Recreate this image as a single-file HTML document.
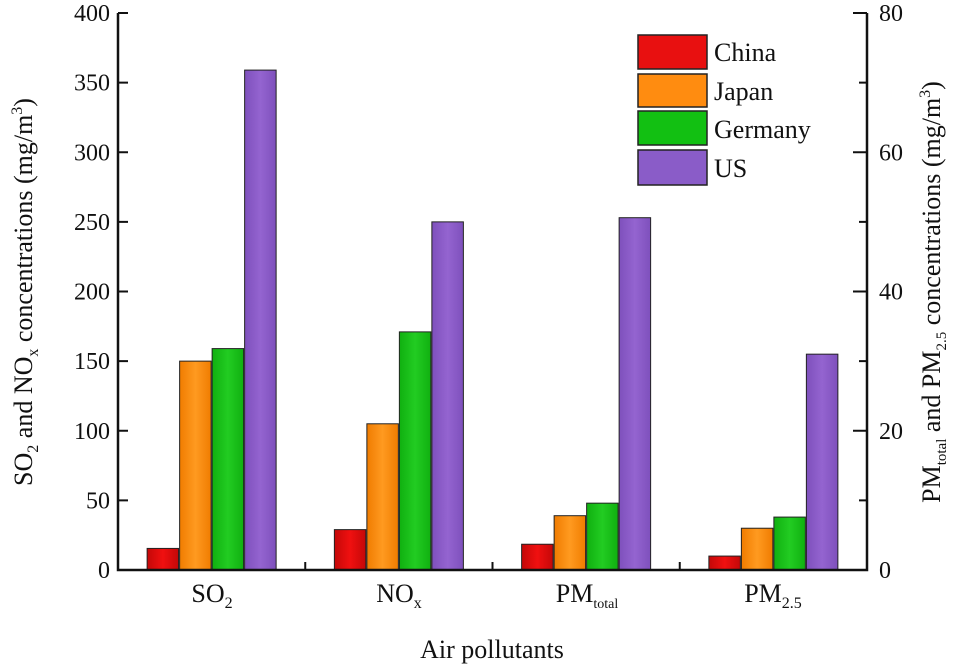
<!DOCTYPE html>
<html><head><meta charset="utf-8"><style>
body{margin:0;background:#fff;}
svg text{font-family:"Liberation Serif",serif;fill:#111;}
</style></head><body>
<svg id="chart" width="963" height="666" viewBox="0 0 963 666" xmlns="http://www.w3.org/2000/svg">
<defs>
<linearGradient id="gChina" x1="0" x2="1"><stop offset="0" stop-color="#c40808"/><stop offset="0.5" stop-color="#f01010"/><stop offset="1" stop-color="#c40808"/></linearGradient>
<linearGradient id="gJapan" x1="0" x2="1"><stop offset="0" stop-color="#f07c00"/><stop offset="0.5" stop-color="#ff9a20"/><stop offset="1" stop-color="#f07c00"/></linearGradient>
<linearGradient id="gGermany" x1="0" x2="1"><stop offset="0" stop-color="#10b010"/><stop offset="0.5" stop-color="#22cc22"/><stop offset="1" stop-color="#10b010"/></linearGradient>
<linearGradient id="gUS" x1="0" x2="1"><stop offset="0" stop-color="#7e50bc"/><stop offset="0.5" stop-color="#9464d0"/><stop offset="1" stop-color="#7e50bc"/></linearGradient>
</defs>
<g id="bars"></g>
<g id="axes"></g>
</svg>
<script>
const categories = ["SO2","NOx","PMtotal","PM2.5"];
const seriesNames = ["China","Japan","Germany","US"];
// SO2 & NOx on left axis (0-400); PM on right axis (0-80)
const china = [15.5, 29, 3.7, 2.0];
const japan = [150, 105, 7.8, 6.0];
const germany = [159, 171, 9.6, 7.6];
const us = [359, 250, 50.6, 31.0];
const useRight = [false, false, true, true];
const leftTicks = [0,50,100,150,200,250,300,350,400];
const rightTicks = [0,20,40,60,80];

const L=118,R=867,T=13,B=570;
const yL=v=>B-(v/400)*(B-T);
const yR=v=>B-(v/80)*(B-T);
const gw=(R-L)/categories.length;
const bw=32.5;
const ns='http://www.w3.org/2000/svg';
function mk(tag,attrs,parent){const e=document.createElementNS(ns,tag);for(const k in attrs)e.setAttribute(k,attrs[k]);parent.appendChild(e);return e;}
const bars=document.getElementById('bars');
const axes=document.getElementById('axes');
const svg=document.getElementById('chart');
const all=[china,japan,germany,us];
const fills=['url(#gChina)','url(#gJapan)','url(#gGermany)','url(#gUS)'];
categories.forEach((c,ci)=>{
  const cx=L+gw*(ci+0.5);
  all.forEach((s,si)=>{
    const y=useRight[ci]?yR(s[ci]):yL(s[ci]);
    const x=cx-2*bw+si*bw;
    const r=mk('rect',{x:x+0.5,y:y,width:bw-1,height:B-y,fill:fills[si],stroke:'#222','stroke-width':1},bars);
    
    
  });
});
// axes lines
const ax=mk('path',{d:`M${L},${T} V${B} H${R} V${T}`,fill:'none',stroke:'#111','stroke-width':2.5},axes);


leftTicks.forEach(t=>{
  const y=yL(t);
  mk('line',{x1:L,x2:L+10,y1:y,y2:y,stroke:'#111','stroke-width':2},axes);
  const tx=mk('text',{x:L-8,y:y+8,'text-anchor':'end','font-size':24},axes);
  tx.textContent=t;
  
  
});
for(let v=10;v<80;v+=20){const y=yR(v);mk('line',{x1:R-8,x2:R,y1:y,y2:y,stroke:'#111','stroke-width':2},axes);}
rightTicks.forEach(t=>{
  const y=yR(t);
  mk('line',{x1:R-14,x2:R,y1:y,y2:y,stroke:'#111','stroke-width':2},axes);
  const tx=mk('text',{x:R+12,y:y+8,'font-size':24},axes);
  tx.textContent=t;
  
  
});
categories.forEach((c,ci)=>{const x=L+gw*ci;if(ci>0)mk('line',{x1:x,x2:x,y1:B,y2:B-8,stroke:'#111','stroke-width':2},axes);});
</script>
<svg style="position:absolute;left:0;top:0" width="963" height="666">
<g font-family="Liberation Serif,serif" fill="#111">
<text x="212" y="602" font-size="26" text-anchor="middle">SO<tspan font-size="16" dy="6">2</tspan></text>
<text x="399" y="602" font-size="26" text-anchor="middle">NO<tspan font-size="16" dy="6">x</tspan></text>
<text x="587" y="602" font-size="26" text-anchor="middle">PM<tspan font-size="14" dy="6">total</tspan></text>
<text x="773" y="602" font-size="26" text-anchor="middle">PM<tspan font-size="16" dy="6">2.5</tspan></text>
<text x="492" y="658" font-size="26" text-anchor="middle">Air pollutants</text>
<text transform="translate(32,292) rotate(-90)" font-size="26" text-anchor="middle">SO<tspan font-size="16" dy="6">2</tspan><tspan dy="-6"> and NO</tspan><tspan font-size="16" dy="6">x</tspan><tspan dy="-6"> concentrations (mg/m</tspan><tspan font-size="16" dy="-10">3</tspan><tspan dy="10">)</tspan></text>
<text transform="translate(940,292) rotate(-90)" font-size="26" text-anchor="middle">PM<tspan font-size="15" dy="6">total</tspan><tspan dy="-6"> and PM</tspan><tspan font-size="15" dy="6">2.5</tspan><tspan dy="-6"> concentrations (mg/m</tspan><tspan font-size="16" dy="-10">3</tspan><tspan dy="10">)</tspan></text>
</g>
<g font-family="Liberation Serif,serif" font-size="26" fill="#111">
<rect x="638" y="35" width="69" height="34" fill="#e81010" stroke="#222" stroke-width="1.5"/><text x="714" y="61">China</text>
<rect x="638" y="74" width="69" height="33" fill="#ff8c10" stroke="#222" stroke-width="1.5"/><text x="714" y="100">Japan</text>
<rect x="638" y="111" width="69" height="34" fill="#12c012" stroke="#222" stroke-width="1.5"/><text x="714" y="138">Germany</text>
<rect x="638" y="150" width="69" height="35" fill="#8a5cc8" stroke="#222" stroke-width="1.5"/><text x="714" y="177">US</text>
</g>
</svg>
</body></html>
